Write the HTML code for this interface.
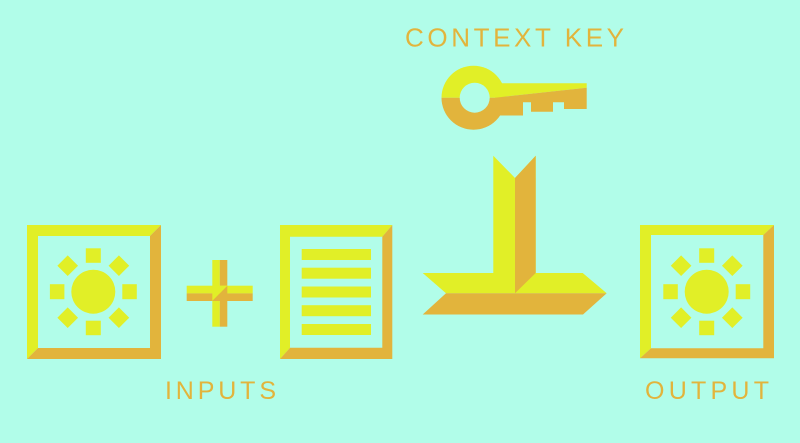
<!DOCTYPE html>
<html><head><meta charset="utf-8"><style>
html,body{margin:0;padding:0;background:#b1fde9;}
svg{display:block}
text{font-family:"Liberation Sans","DejaVu Sans",sans-serif;fill:#e2b43c;}
</style></head><body>
<svg width="800" height="443" viewBox="0 0 800 443" xmlns="http://www.w3.org/2000/svg">
<rect width="800" height="443" fill="#b1fde9"/>
<defs>
<g id="sun">
<circle cx="0" cy="0" r="22" fill="#e1ef27"/>
<rect x="-7.5" y="-43.4" width="15" height="14.5" fill="#e1ef27"/>
<rect x="-7.5" y="29" width="15" height="14.5" fill="#e1ef27"/>
<rect x="-43.4" y="-7.5" width="14.5" height="15" fill="#e1ef27"/>
<rect x="29" y="-7.5" width="14.5" height="15" fill="#e1ef27"/>
<g fill="#e1ef27">
<rect x="-7.3" y="-7.3" width="14.6" height="14.6" transform="translate(-25.6,-26) rotate(45)"/>
<rect x="-7.3" y="-7.3" width="14.6" height="14.6" transform="translate(25.6,-26) rotate(45)"/>
<rect x="-7.3" y="-7.3" width="14.6" height="14.6" transform="translate(-25.6,26) rotate(45)"/>
<rect x="-7.3" y="-7.3" width="14.6" height="14.6" transform="translate(25.6,26) rotate(45)"/>
</g>
</g>
</defs>
<polygon points="27,225 161,225 150,236 38,236 38,348 27,359" fill="#e1ef27"/>
<polygon points="161,225 161,359 27,359 38,348 150,348 150,236" fill="#e2b43c"/>
<use href="#sun" x="93.3" y="291.7"/>
<rect x="212.3" y="260" width="7.5" height="66.7" fill="#e1ef27"/>
<rect x="219.8" y="260" width="7.5" height="66.7" fill="#e2b43c"/>
<rect x="186.7" y="285.7" width="66" height="7.7" fill="#e1ef27"/>
<rect x="186.7" y="293.4" width="66" height="7.6" fill="#e2b43c"/>
<polygon points="212.3,285.7 227.3,285.7 212.3,301" fill="#e1ef27"/>
<polygon points="227.3,285.7 227.3,301 212.3,301" fill="#e2b43c"/>
<polygon points="280,225 392.3,225 382.3,236.7 290,236.7 290,347.7 280,359" fill="#e1ef27"/>
<polygon points="392.3,225 392.3,359 280,359 290,347.7 382.3,347.7 382.3,236.7" fill="#e2b43c"/>
<g fill="#e1ef27">
<rect x="301.7" y="249" width="69.3" height="11"/>
<rect x="301.7" y="267.7" width="69.3" height="11"/>
<rect x="301.7" y="286.5" width="69.3" height="11"/>
<rect x="301.7" y="305.2" width="69.3" height="11"/>
<rect x="301.7" y="324" width="69.3" height="11"/>
</g>
<polygon points="493.3,155.7 515,178 515,293.3 446,293.3 422.7,273 493.3,273" fill="#e1ef27"/>
<polygon points="515,178 535.7,155.7 535.7,273 582.7,273 606.7,293.3 515,293.3" fill="#e1ef27"/>
<polygon points="515,178 535.7,155.7 535.7,273 515,293.3" fill="#e2b43c"/>
<polygon points="446,293.3 606.7,293.3 583,314.5 422.7,314.5" fill="#e2b43c"/>
<path d="M441.5,97.7 A32,32 0 0 1 505.5,97.7 Z" fill="#e1ef27"/>
<path d="M441.5,97.7 A32,32 0 0 0 505.5,97.7 Z" fill="#e2b43c"/>
<polygon points="495,83.3 586.7,83.3 586.7,87.7 495,97.7" fill="#e1ef27"/>
<polygon points="495,97.7 586.7,87.7 586.7,109 564,109 564,102.3 553,102.3 553,111.7 531,111.7 531,102.3 523,102.3 523,115.5 495,115.5" fill="#e2b43c"/>
<circle cx="474.7" cy="97.7" r="15" fill="#b1fde9"/>
<polygon points="640,225 774,225 763.3,235 651,235 651,348.3 640,358.3" fill="#e1ef27"/>
<polygon points="774,225 774,358.3 640,358.3 651,348.3 763.3,348.3 763.3,235" fill="#e2b43c"/>
<use href="#sun" x="706.7" y="291.7"/>
<text x="405" y="46.7" font-size="26" textLength="219" lengthAdjust="spacing">CONTEXT KEY</text>
<text x="165" y="399" font-size="25" textLength="111" lengthAdjust="spacing">INPUTS</text>
<text x="645" y="399" font-size="25" textLength="124" lengthAdjust="spacing">OUTPUT</text>
</svg>
</body></html>
